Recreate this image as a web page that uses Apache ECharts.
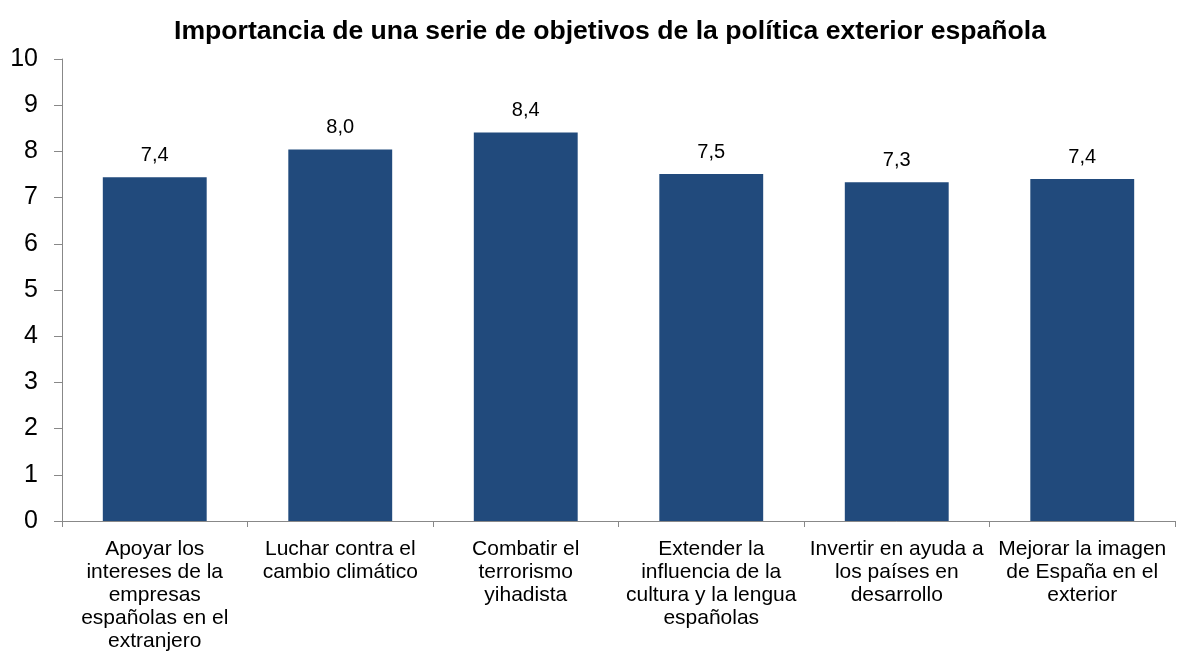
<!DOCTYPE html>
<html><head><meta charset="utf-8">
<script src="https://cdn.jsdelivr.net/npm/echarts@6/dist/echarts.min.js"></script>
<style>html,body{margin:0;padding:0;background:#fff}#c{width:1177px;height:655px}</style>
</head><body><div id="c"></div>
<script>
const categories = [
  "Apoyar los\nintereses de la\nempresas\nespañolas en el\nextranjero",
  "Luchar contra el\ncambio climático",
  "Combatir el\nterrorismo\nyihadista",
  "Extender la\ninfluencia de la\ncultura y la lengua\nespañolas",
  "Invertir en ayuda a\nlos países en\ndesarrollo",
  "Mejorar la imagen\nde España en el\nexterior"
];
const values = [7.44, 8.04, 8.41, 7.51, 7.33, 7.40];
const yTicks = [0, 1, 2, 3, 4, 5, 6, 7, 8, 9, 10];
const titleText = "Importancia de una serie de objetivos de la política exterior española";

const chart = echarts.init(document.getElementById('c'));
chart.setOption({
  animation: false,
  title: {text: titleText, left: 605, top: 13, textAlign: 'center',
    textStyle: {fontFamily: 'Liberation Sans', fontWeight: 'bold', fontSize: 26.6, color: '#000'}},
  grid: {left: 62, right: 2, top: 59, bottom: 134, containLabel: false},
  xAxis: {type: 'category', data: categories,
    axisLine: {lineStyle: {color: '#888', width: 1}},
    axisTick: {show: true, alignWithLabel: false, length: 6, lineStyle: {color: '#888'}},
    axisLabel: {interval: 0, margin: 17, color: '#000', fontFamily: 'Liberation Sans', fontSize: 21, lineHeight: 23, align: 'center'}
  },
  yAxis: {type: 'value', min: yTicks[0], max: yTicks[yTicks.length-1], interval: 1,
    axisLine: {show: true, lineStyle: {color: '#888'}},
    axisTick: {show: true, length: 8, lineStyle: {color: '#888'}},
    splitLine: {show: false},
    axisLabel: {color: '#000', fontFamily: 'Liberation Sans', fontSize: 25, margin: 24}
  },
  series: [{type: 'bar', data: values, barCategoryGap: '44%',
    itemStyle: {color: '#214A7C'},
    label: {show: true, position: 'top', distance: 12, color: '#000', fontFamily: 'Liberation Sans', fontSize: 20,
      formatter: p => p.value.toFixed(1).replace('.', ',')}
  }]
});
</script></body></html>
